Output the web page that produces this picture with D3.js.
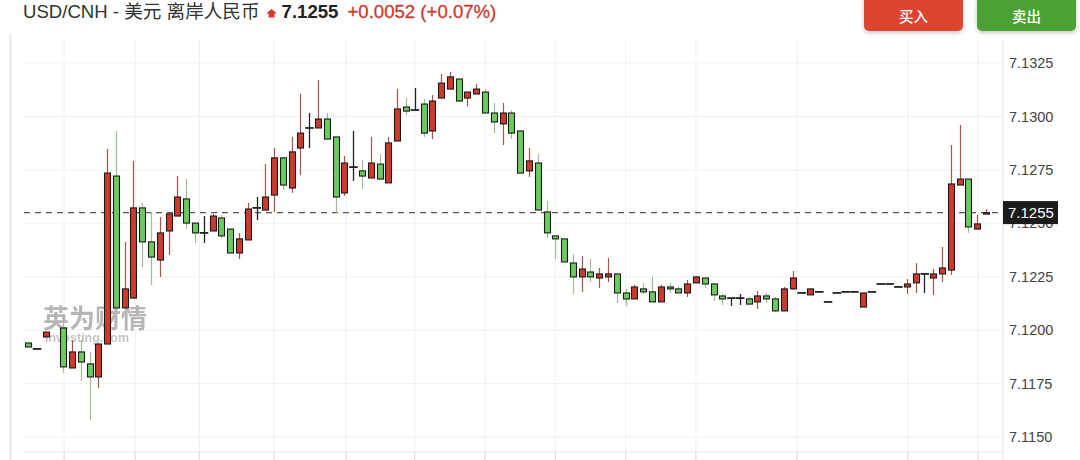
<!DOCTYPE html>
<html>
<head>
<meta charset="utf-8">
<script src="https://cdn.jsdelivr.net/npm/d3@7"></script>
<style>
  body { margin: 0; background: #fff; }
  svg { display: block; font-family: "Liberation Sans", "Noto Sans CJK SC", sans-serif; }
</style>
</head>
<body>
<div class="container"></div>
<script>
const pairName = 'USD/CNH - 美元 离岸人民币'
const lastPrice = 7.1255
const changeText = '+0.0052 (+0.07%)'
const buyLabel = '买入'
const sellLabel = '卖出'

const yTicks = [7.1150, 7.1175, 7.1200, 7.1225, 7.1250, 7.1275, 7.1300, 7.1325]
const gridIdx = [4.1, 12.2, 19.5, 28, 36.2, 44, 52, 60, 68, 76, 87.5, 100.1, 108.1]

const open = [
  7.11940, 7.11912, 7.11968, null, 7.12010, 7.11823, 7.11898, 7.11842, 7.11781, 7.11935,
  7.12721, 7.12104, 7.12150, 7.12572, 7.12413, 7.12328, 7.12464, 7.12534, 7.12614, 7.12501,
  7.12455, 7.12464, 7.12525, 7.12473, 7.12361, 7.12422, 7.12572, 7.12562, 7.12632, 7.12806,
  7.12665, 7.12852, 7.12946, 7.12946, 7.12988, 7.12904, 7.12642, 7.12763, 7.12745, 7.12712,
  7.12777, 7.12689, 7.12885, 7.13044, 7.13030, 7.13058, 7.12932, 7.13086, 7.13128, 7.13175,
  7.13086, 7.13105, 7.13114, 7.13016, 7.12965, 7.13016, 7.12932, 7.12745, 7.12782, 7.12553,
  7.12441, 7.12427, 7.12314, 7.12249, 7.12272, 7.12244, 7.12249, 7.12263, 7.12174, 7.12146,
  7.12193, 7.12179, 7.12132, 7.12202, 7.12193, 7.12174, 7.12221, 7.12244, 7.12216, 7.12160,
  7.12150, 7.12150, 7.12146, 7.12132, 7.12160, 7.12146, 7.12090, 7.12193, 7.12174, 7.12165,
  7.12179, 7.12132, 7.12174, 7.12179, 7.12179, 7.12108, 7.12179, 7.12216, 7.12216, 7.12202,
  7.12202, 7.12221, 7.12263, 7.12244, 7.12263, 7.12281, 7.12679, 7.12707, 7.12473, 7.12544
]
const high = [
  7.11940, 7.11912, 7.11991, null, 7.12033, 7.11954, 7.11954, 7.11898, 7.11935, 7.12848,
  7.12932, 7.12413, 7.12792, 7.12595, 7.12553, 7.12529, 7.12544, 7.12721, 7.12707, 7.12501,
  7.12534, 7.12544, 7.12539, 7.12473, 7.12455, 7.12595, 7.12623, 7.12777, 7.12852, 7.12810,
  7.12904, 7.13105, 7.13016, 7.13170, 7.13016, 7.12904, 7.12815, 7.12932, 7.12796, 7.12904,
  7.12824, 7.12904, 7.13128, 7.13086, 7.13133, 7.13082, 7.13100, 7.13199, 7.13208, 7.13175,
  7.13114, 7.13152, 7.13128, 7.13063, 7.13063, 7.13030, 7.12932, 7.12852, 7.12824, 7.12604,
  7.12441, 7.12427, 7.12356, 7.12347, 7.12333, 7.12291, 7.12338, 7.12263, 7.12193, 7.12211,
  7.12221, 7.12249, 7.12211, 7.12221, 7.12202, 7.12235, 7.12253, 7.12244, 7.12221, 7.12169,
  7.12150, 7.12169, 7.12155, 7.12183, 7.12174, 7.12155, 7.12202, 7.12277, 7.12174, 7.12193,
  7.12179, 7.12132, 7.12174, 7.12179, 7.12179, 7.12174, 7.12179, 7.12216, 7.12216, 7.12202,
  7.12239, 7.12314, 7.12267, 7.12286, 7.12389, 7.12866, 7.12960, 7.12707, 7.12539, 7.12567
]
const low = [
  7.11921, 7.11912, 7.11968, null, 7.11800, 7.11823, 7.11762, 7.11580, 7.11729, 7.11935,
  7.12104, 7.12104, 7.12150, 7.12295, 7.12211, 7.12249, 7.12352, 7.12534, 7.12473, 7.12408,
  7.12408, 7.12464, 7.12431, 7.12361, 7.12333, 7.12422, 7.12515, 7.12562, 7.12553, 7.12656,
  7.12642, 7.12726, 7.12852, 7.12946, 7.12894, 7.12548, 7.12628, 7.12698, 7.12660, 7.12712,
  7.12707, 7.12689, 7.12885, 7.13007, 7.13030, 7.12904, 7.12894, 7.13086, 7.13128, 7.13072,
  7.13049, 7.13105, 7.13016, 7.12922, 7.12866, 7.12894, 7.12735, 7.12717, 7.12562, 7.12431,
  7.12333, 7.12319, 7.12169, 7.12179, 7.12225, 7.12197, 7.12225, 7.12127, 7.12113, 7.12146,
  7.12169, 7.12132, 7.12132, 7.12174, 7.12174, 7.12155, 7.12221, 7.12197, 7.12136, 7.12118,
  7.12113, 7.12118, 7.12122, 7.12099, 7.12127, 7.12085, 7.12090, 7.12188, 7.12174, 7.12165,
  7.12179, 7.12132, 7.12174, 7.12179, 7.12179, 7.12108, 7.12179, 7.12216, 7.12216, 7.12202,
  7.12169, 7.12174, 7.12174, 7.12165, 7.12225, 7.12258, 7.12679, 7.12455, 7.12473, 7.12544
]
const close = [
  7.11921, 7.11912, 7.11991, null, 7.11828, 7.11898, 7.11851, 7.11781, 7.11935, 7.12735,
  7.12104, 7.12193, 7.12572, 7.12413, 7.12342, 7.12455, 7.12544, 7.12623, 7.12501, 7.12455,
  7.12455, 7.12534, 7.12441, 7.12361, 7.12427, 7.12567, 7.12572, 7.12623, 7.12806, 7.12679,
  7.12834, 7.12922, 7.12946, 7.12988, 7.12894, 7.12623, 7.12782, 7.12763, 7.12721, 7.12782,
  7.12707, 7.12876, 7.13035, 7.13025, 7.13030, 7.12922, 7.13072, 7.13156, 7.13185, 7.13072,
  7.13114, 7.13128, 7.13016, 7.12974, 7.13016, 7.12922, 7.12735, 7.12792, 7.12562, 7.12455,
  7.12427, 7.12319, 7.12249, 7.12286, 7.12249, 7.12263, 7.12263, 7.12174, 7.12146, 7.12202,
  7.12179, 7.12132, 7.12202, 7.12193, 7.12174, 7.12216, 7.12249, 7.12216, 7.12165, 7.12146,
  7.12150, 7.12150, 7.12122, 7.12160, 7.12146, 7.12090, 7.12193, 7.12244, 7.12174, 7.12193,
  7.12179, 7.12132, 7.12174, 7.12179, 7.12179, 7.12174, 7.12179, 7.12216, 7.12216, 7.12202,
  7.12216, 7.12263, 7.12263, 7.12263, 7.12291, 7.12684, 7.12707, 7.12483, 7.12497, 7.12550
]

const w = 1080
const h = 460
const upColor = '#cc3a2d'
const downColor = '#6ccb5e'

const candles = open.map((o, i) => ({ i, o, h: high[i], l: low[i], c: close[i] }))
  .filter(d => d.o !== null)

const svg = d3.select('.container')
  .append('svg')
  .attr('width', w)
  .attr('height', h)

const defs = svg.append('defs')
defs.append('filter')
  .attr('id', 'shadow')
  .attr('x', '-20%').attr('y', '-40%').attr('width', '140%').attr('height', '200%')
  .append('feDropShadow')
  .attr('dx', 0).attr('dy', 2).attr('stdDeviation', 2)
  .attr('flood-color', '#000').attr('flood-opacity', 0.22)

const xScale = d3.scaleLinear()
  .domain([0, open.length - 1])
  .range([28, 986])

const yScale = d3.scaleLinear()
  .domain([7.1150, 7.1325])
  .range([437, 63])

const plotLeft = 24
const plotRight = 1003
const plotTop = 40
const plotBottom = 452

// panel border on the left
svg.append('line')
  .attr('x1', 10.5).attr('x2', 10.5)
  .attr('y1', 34).attr('y2', h)
  .attr('stroke', '#e3e3e3')
  .attr('stroke-width', 1.5)

// grid
svg.append('g')
  .selectAll('line')
  .data(yTicks)
  .join('line')
  .attr('x1', plotLeft).attr('x2', plotRight)
  .attr('y1', d => yScale(d)).attr('y2', d => yScale(d))
  .attr('stroke', '#f1f1f1')

svg.append('g')
  .selectAll('line')
  .data(gridIdx)
  .join('line')
  .attr('x1', d => xScale(d)).attr('x2', d => xScale(d))
  .attr('y1', plotTop).attr('y2', h)
  .attr('stroke', '#f0f0f0')

svg.append('line')
  .attr('x1', plotLeft).attr('x2', plotRight)
  .attr('y1', plotBottom).attr('y2', plotBottom)
  .attr('stroke', '#e4e4e4')

svg.append('g')
  .selectAll('line')
  .data(gridIdx)
  .join('line')
  .attr('x1', d => xScale(d)).attr('x2', d => xScale(d))
  .attr('y1', plotBottom).attr('y2', h)
  .attr('stroke', '#dedede')

svg.append('line')
  .attr('x1', plotRight).attr('x2', plotRight)
  .attr('y1', plotTop).attr('y2', h)
  .attr('stroke', '#e4e4e4')

// y axis
const yAxis = d3.axisRight(yScale)
  .tickValues(yTicks)
  .tickSize(0)
  .tickPadding(6)
  .tickFormat(d3.format('.4f'))

const yG = svg.append('g')
  .attr('transform', `translate(${plotRight}, 0)`)
  .call(yAxis)
yG.select('.domain').remove()
yG.selectAll('text')
  .attr('fill', '#444')
  .attr('font-size', 14.5)
  .attr('font-family', '"Liberation Sans", sans-serif')

// watermark
const wm = svg.append('g').attr('opacity', 0.5)
wm.append('text')
  .text('英为财情')
  .attr('x', 43).attr('y', 328)
  .attr('font-size', 26)
  .attr('font-weight', 'bold')
  .attr('fill', '#6f6f6f')
  .attr('font-family', '"Noto Sans CJK SC", sans-serif')
wm.append('text')
  .text('investing.com')
  .attr('x', 45).attr('y', 342)
  .attr('font-size', 12.5)
  .attr('font-weight', 'bold')
  .attr('fill', '#8a8a8a')

// current price line
svg.append('line')
  .attr('x1', plotLeft).attr('x2', plotRight)
  .attr('y1', yScale(lastPrice)).attr('y2', yScale(lastPrice))
  .attr('stroke', '#555')
  .attr('stroke-width', 1.2)
  .attr('stroke-dasharray', '6,5')

// candles
const bodyW = 6
const cg = svg.append('g')
  .selectAll('g')
  .data(candles)
  .join('g')

cg.append('line')
  .attr('x1', d => Math.round(xScale(d.i)) + 0.5)
  .attr('x2', d => Math.round(xScale(d.i)) + 0.5)
  .attr('y1', d => yScale(d.h))
  .attr('y2', d => yScale(d.l))
  .attr('stroke', d => d.c > d.o ? '#a3574b' : d.c < d.o ? '#a3bb92' : '#222')
  .attr('stroke-width', d => d.c === d.o ? 1.3 : 1.2)

cg.filter(d => d.c !== d.o)
  .append('rect')
  .attr('x', d => Math.round(xScale(d.i)) + 0.5 - bodyW / 2)
  .attr('width', bodyW)
  .attr('y', d => yScale(Math.max(d.o, d.c)))
  .attr('height', d => Math.max(1.5, yScale(Math.min(d.o, d.c)) - yScale(Math.max(d.o, d.c))))
  .attr('fill', d => d.c > d.o ? upColor : downColor)
  .attr('stroke', '#1a1a1a')
  .attr('stroke-width', 1.1)

cg.filter(d => d.c === d.o)
  .append('line')
  .attr('x1', d => xScale(d.i) - 4)
  .attr('x2', d => xScale(d.i) + 4.5)
  .attr('y1', d => yScale(d.o))
  .attr('y2', d => yScale(d.o))
  .attr('stroke', '#222')
  .attr('stroke-width', 1.8)

// last price tag
const tag = svg.append('g')
  .attr('transform', `translate(${plotRight}, ${yScale(lastPrice)})`)
tag.append('rect')
  .attr('x', 0).attr('y', -11.5)
  .attr('width', 55).attr('height', 23)
  .attr('fill', '#1b1b1b')
tag.append('text')
  .text(d3.format('.4f')(lastPrice))
  .attr('x', 5).attr('y', 5.5)
  .attr('fill', '#fff')
  .attr('font-size', 15)

// header
const title = svg.append('text')
  .attr('x', 23).attr('y', 18)
  .attr('font-size', 18.6)
  .attr('fill', '#333')
  .text(pairName)
const titleEnd = 23 + title.node().getComputedTextLength()

const ax = titleEnd + 12
svg.append('path')
  .attr('d', `M${ax},9 L${ax + 5.5},13.5 L${ax + 3},13.5 L${ax + 3},17.5 L${ax - 3},17.5 L${ax - 3},13.5 L${ax - 5.5},13.5 Z`)
  .attr('fill', '#d23c2f')

const priceText = svg.append('text')
  .attr('x', ax + 10).attr('y', 18)
  .attr('font-size', 18.6)
  .attr('font-weight', 'bold')
  .attr('fill', '#222')
  .text(d3.format('.4f')(lastPrice))
const priceEnd = ax + 10 + priceText.node().getComputedTextLength()

svg.append('text')
  .attr('x', priceEnd + 9).attr('y', 18)
  .attr('font-size', 18.6)
  .attr('fill', '#c93a2e')
  .attr('stroke', '#c93a2e')
  .attr('stroke-width', 0.3)
  .text(changeText)

// buttons
const buttons = [
  { label: buyLabel, x: 864, color: '#db4431' },
  { label: sellLabel, x: 977, color: '#4ba233' }
]
const bg = svg.append('g')
  .selectAll('g')
  .data(buttons)
  .join('g')
  .attr('transform', d => `translate(${d.x}, -6)`)
bg.append('rect')
  .attr('width', 99).attr('height', 37)
  .attr('rx', 5)
  .attr('fill', d => d.color)
  .attr('filter', 'url(#shadow)')
bg.append('text')
  .text(d => d.label)
  .attr('x', 49.5).attr('y', 27.5)
  .attr('text-anchor', 'middle')
  .attr('fill', '#fff')
  .attr('font-size', 14.5)
  .attr('font-weight', 500)
  .attr('font-family', '"Noto Sans CJK SC", sans-serif')
</script>
</body>
</html>
